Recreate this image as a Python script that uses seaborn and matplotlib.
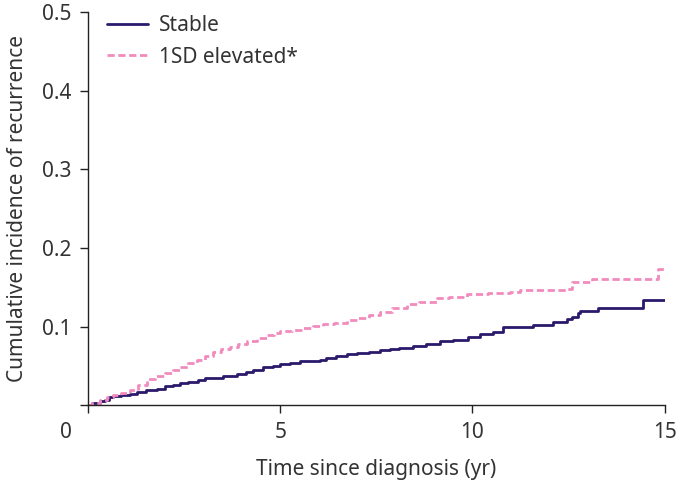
import matplotlib
matplotlib.use("Agg")
import matplotlib.pyplot as plt
import seaborn as sns
import pandas as pd

# Kaplan-Meier style cumulative incidence
stable_t = [0, 0.1, 0.3, 0.44, 0.55, 0.65, 0.85, 1.09, 1.27, 1.5, 1.79, 2.0, 2.2, 2.39,
            2.6, 2.85, 3.05, 3.25, 3.5, 3.87, 4.1, 4.3, 4.55, 4.8, 5.0, 5.25, 5.51,
            6.03, 6.2, 6.45, 6.73, 7.0, 7.3, 7.59, 7.85, 8.1, 8.45, 8.8, 9.15, 9.5, 9.88,
            10.2, 10.53, 10.8, 11.57, 12.09, 12.45, 12.6, 12.74, 12.79, 13.26, 14.43, 15.0]
stable_y = [0, 0.003, 0.005, 0.007, 0.010, 0.012, 0.013, 0.014, 0.017, 0.019, 0.021, 0.024, 0.026, 0.028,
            0.030, 0.032, 0.034, 0.035, 0.037, 0.039, 0.042, 0.045, 0.048, 0.050, 0.052, 0.054, 0.056,
            0.057, 0.060, 0.062, 0.065, 0.066, 0.068, 0.070, 0.071, 0.073, 0.075, 0.078, 0.081, 0.083, 0.087,
            0.090, 0.093, 0.099, 0.102, 0.106, 0.109, 0.112, 0.117, 0.120, 0.124, 0.134, 0.134]

elev_t = [0, 0.1, 0.3, 0.5, 0.65, 0.85, 1.09, 1.3, 1.53, 1.75, 2.0, 2.2, 2.39, 2.6, 2.83,
          3.05, 3.25, 3.45, 3.69, 3.9, 4.13, 4.4, 4.65, 4.85, 5.0, 5.3, 5.6, 5.86, 6.1, 6.4,
          6.73, 7.0, 7.3, 7.59, 7.9, 8.29, 8.6, 9.07, 9.4, 9.85, 10.4, 10.97, 11.23, 11.8,
          12.45, 12.58, 13.1, 14.82, 15.0]
elev_y = [0, 0.003, 0.006, 0.010, 0.013, 0.016, 0.019, 0.026, 0.033, 0.037, 0.041, 0.045, 0.049, 0.053, 0.057,
          0.063, 0.068, 0.071, 0.074, 0.078, 0.082, 0.086, 0.089, 0.092, 0.094, 0.096, 0.098, 0.1005, 0.103, 0.105,
          0.108, 0.111, 0.115, 0.119, 0.123, 0.128, 0.131, 0.136, 0.138, 0.141, 0.142, 0.144, 0.147, 0.147,
          0.148, 0.156, 0.160, 0.173, 0.173]

groups = ["Stable", "1SD elevated*"]
palette = {"Stable": "#2b1a6c", "1SD elevated*": "#f28bbd"}

df = pd.concat([
    pd.DataFrame({"time": stable_t, "inc": stable_y, "group": groups[0]}),
    pd.DataFrame({"time": elev_t, "inc": elev_y, "group": groups[1]}),
])

sns.set_style("ticks")
plt.rcParams["font.family"] = ["Noto Sans", "DejaVu Sans"]
text_col = "#333333"
fs = 15

fig = plt.figure(figsize=(6.79, 4.84), dpi=100)
ax = fig.add_axes([0.1296, 0.163, 0.8494, 0.812])

sns.lineplot(data=df, x="time", y="inc", hue="group", style="group",
             palette=palette, dashes={"Stable": "", "1SD elevated*": (2.6, 1.3)},
             drawstyle="steps-post", linewidth=2.0, ax=ax, hue_order=groups, style_order=groups)

ax.set_xlim(0, 15)
ax.set_ylim(0, 0.5)
ax.set_xticks([0, 5, 10, 15])
ax.set_xticklabels(["", "5", "10", "15"])
ax.set_yticks([0, 0.1, 0.2, 0.3, 0.4, 0.5])
ax.set_yticklabels(["", "0.1", "0.2", "0.3", "0.4", "0.5"])
ax.annotate("0", xy=(0, 0), xycoords="axes fraction", xytext=(-16, -12),
            textcoords="offset points", ha="center", va="top", fontsize=fs, color=text_col)
ax.tick_params(axis="both", labelsize=fs, colors=text_col, length=6, width=1, pad=6)
ax.tick_params(axis="both", color="#222222")
for s in ["left", "bottom"]:
    ax.spines[s].set_color("#222222")
    ax.spines[s].set_linewidth(1)
sns.despine(ax=ax)

ax.set_xlabel("Time since diagnosis (yr)", fontsize=fs, color=text_col, labelpad=12)
ax.set_ylabel("Cumulative incidence of recurrence", fontsize=fs, color=text_col, labelpad=10)

leg = ax.legend(loc="upper left", frameon=False, fontsize=fs, handlelength=2.0,
                bbox_to_anchor=(0.0, 1.04), labelspacing=0.5, handletextpad=0.5)
for t in leg.get_texts():
    t.set_color(text_col)

fig.savefig("out.png", dpi=100)
